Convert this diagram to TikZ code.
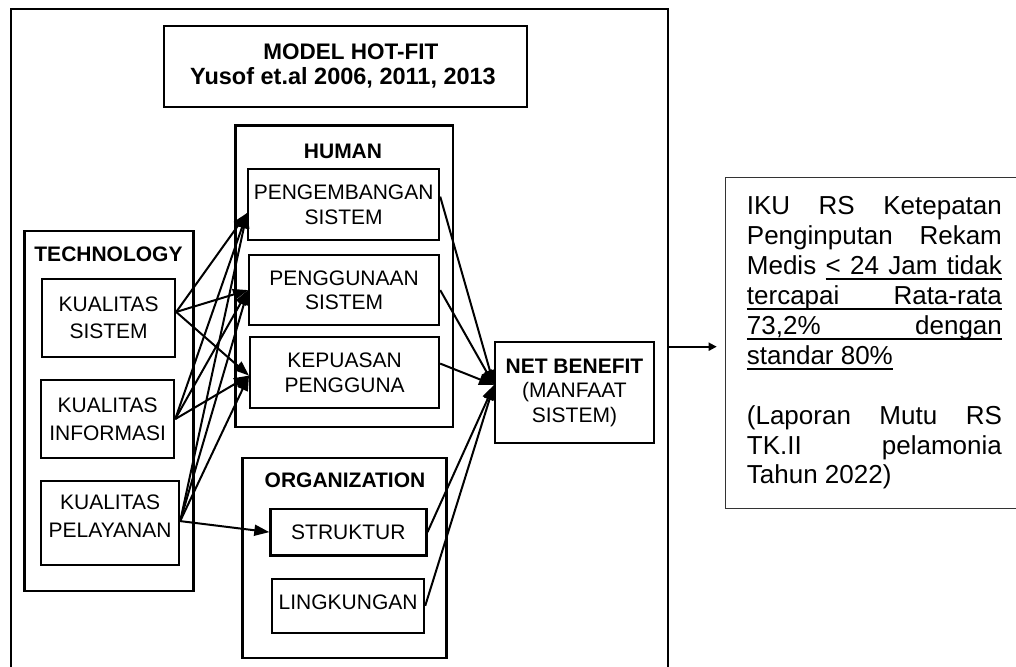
\documentclass[tikz,border=0pt]{standalone}
\usepackage{fontspec}
\setmainfont{Liberation Sans}
\usetikzlibrary{arrows.meta}

% underlined word and underlined stretchable gap (fixed depth below the baseline)
\newcommand\ulword[1]{\setbox0\hbox{#1}\rlap{\rule[-5.2pt]{\wd0}{1.8pt}}\box0}
\newcommand\ulgap{\leaders\hrule height -3.4pt depth 5.2pt\hfill}
\newlength\ikuw
\setlength\ikuw{255pt}

\begin{document}
\begin{tikzpicture}[x=1pt,y=-1pt,
  frame/.style={draw, line width=2.2pt, inner sep=0pt, anchor=north west},
  lbl/.style={font=\fontsize{21}{24.5}\selectfont, align=center},
  techlbl/.style={font=\fontsize{21}{27.5}\selectfont, align=center},
  head/.style={font=\bfseries\fontsize{21}{24.5}\selectfont, inner sep=0pt, anchor=base},
  link/.style={line width=2pt, -{Triangle[length=15pt,width=11pt]}},
  outlink/.style={line width=1.8pt, -{Triangle[length=8pt,width=8pt]}},
]
\useasboundingbox (0,0) rectangle (1016,666);
\fill[white] (0,0) rectangle (1016,666);

% outer frame of the model (continues below the lower edge)
\node[frame, minimum width=656.7pt, minimum height=700pt] (hotfit) at (10,8) {};

% title
\node[frame, minimum width=363pt, minimum height=81pt] (title) at (163,25) {};
\node[head, font=\bfseries\fontsize{22.5}{26}\selectfont] (titleA) at (350.8,59.3) {MODEL HOT-FIT};
\node[head, font=\bfseries\fontsize{23.5}{26}\selectfont] (titleB) at (343,85) {Yusof et.al 2006, 2011, 2013};

% HUMAN group
\node[frame, minimum width=217.7pt, minimum height=301.7pt] (human) at (234.3,124.3) {};
\node[head] (humanlbl) at (343,158.3) {HUMAN};
\node[frame, lbl, minimum width=191pt, minimum height=71pt] (peng) at (247,168) {PENGEMBANGAN\\SISTEM};
\node[frame, lbl, minimum width=190pt, minimum height=70pt] (pengg) at (248,254) {PENGGUNAAN\\SISTEM};
\node[frame, lbl, minimum width=189pt, minimum height=71pt] (kep) at (249,336) {KEPUASAN\\PENGGUNA};

% TECHNOLOGY group
\node[frame, minimum width=169pt, minimum height=360pt] (tech) at (23.3,230) {};
\node[head] (techlbl) at (108.5,261.7) {TECHNOLOGY};
\node[frame, techlbl, minimum width=133pt, minimum height=78.3pt] (ks) at (41,277.7) {KUALITAS\\SISTEM};
\node[frame, techlbl, minimum width=133pt, minimum height=78pt] (ki) at (40,379) {KUALITAS\\INFORMASI};
\node[frame, techlbl, minimum width=138pt, minimum height=84pt] (kp) at (40,480) {KUALITAS\\PELAYANAN\\[-14pt]\mbox{}};

% ORGANIZATION group
\node[frame, minimum width=204pt, minimum height=200pt] (org) at (241.3,456.7) {};
\node[head] (orglbl) at (345,487.7) {ORGANIZATION};
\node[frame, lbl, minimum width=156pt, minimum height=46.6pt] (str) at (269.3,507.7) {STRUKTUR};
\node[frame, lbl, minimum width=152pt, minimum height=54pt] (ling) at (271,577.7) {LINGKUNGAN\\[-16.5pt]\mbox{}};

% NET BENEFIT
\node[frame, lbl, minimum width=158.7pt, minimum height=101pt] (nb) at (494,341)
      {\textbf{NET BENEFIT}\\(MANFAAT\\SISTEM)};

% indicator box on the right (continues past the right edge)
\node[draw=black!80, line width=1.3pt, inner sep=0pt, anchor=north west,
      minimum width=320pt, minimum height=331.3pt] (iku) at (725,176.7) {};
\node[anchor=north west, inner sep=0pt, font=\fontsize{26}{29.9}\selectfont] (ikutext) at (746.7,196.5) {%
  \vbox{\baselineskip=29.9pt
    \hbox to\ikuw{IKU\hfill RS\hfill Ketepatan}
    \hbox to\ikuw{Penginputan\hfill Rekam}
    \hbox to\ikuw{Medis\hfill\ulword{<}\ulgap\ulword{24}\ulgap\ulword{Jam}\ulgap\ulword{tidak}}
    \hbox to\ikuw{\ulword{tercapai}\ulgap\ulword{Rata-rata}}
    \hbox to\ikuw{\ulword{73,2\%}\ulgap\ulword{dengan}}
    \hbox to\ikuw{\ulword{standar 80\%}\hfill}
    \hbox{}
    \hbox to\ikuw{(Laporan\hfill Mutu\hfill RS}
    \hbox to\ikuw{TK.II\hfill pelamonia}
    \hbox to\ikuw{Tahun 2022)\hfill}
  }};

% technology -> human
\draw[link] ([yshift=6pt]ks.east) -- ([yshift=-8.5pt]peng.west);
\draw[link] ([yshift=6pt]ks.east) -- (pengg.west);
\draw[link] ([yshift=6pt]ks.east) -- ([yshift=-3pt]kep.west);
\draw[link] (ki.east) -- ([yshift=-8.5pt]peng.west);
\draw[link] (ki.east) -- (pengg.west);
\draw[link] (ki.east) -- ([yshift=-3pt]kep.west);
\draw[link] ([yshift=2pt]kp.east) -- ([yshift=-8.5pt]peng.west);
\draw[link] ([yshift=2pt]kp.east) -- (pengg.west);
\draw[link] ([yshift=2pt]kp.east) -- ([yshift=-3pt]kep.west);
% technology -> organization
\draw[link] ([yshift=2pt]kp.east) -- (str.west);

% human and organization -> net benefit
\coordinate (nbin) at (494,385);
\draw[link] ([yshift=8pt]peng.east) -- (nbin);
\draw[link] (pengg.east) -- (nbin);
\draw[link] ([yshift=9pt]kep.east) -- (nbin);
\draw[link] (str.east) -- (nbin);
\draw[link] (ling.east) -- (nbin);

% model -> indicator
\coordinate (ikuin) at (716.7,346.7);
\draw[outlink] (hotfit.east |- ikuin) -- (ikuin);
\end{tikzpicture}
\end{document}
